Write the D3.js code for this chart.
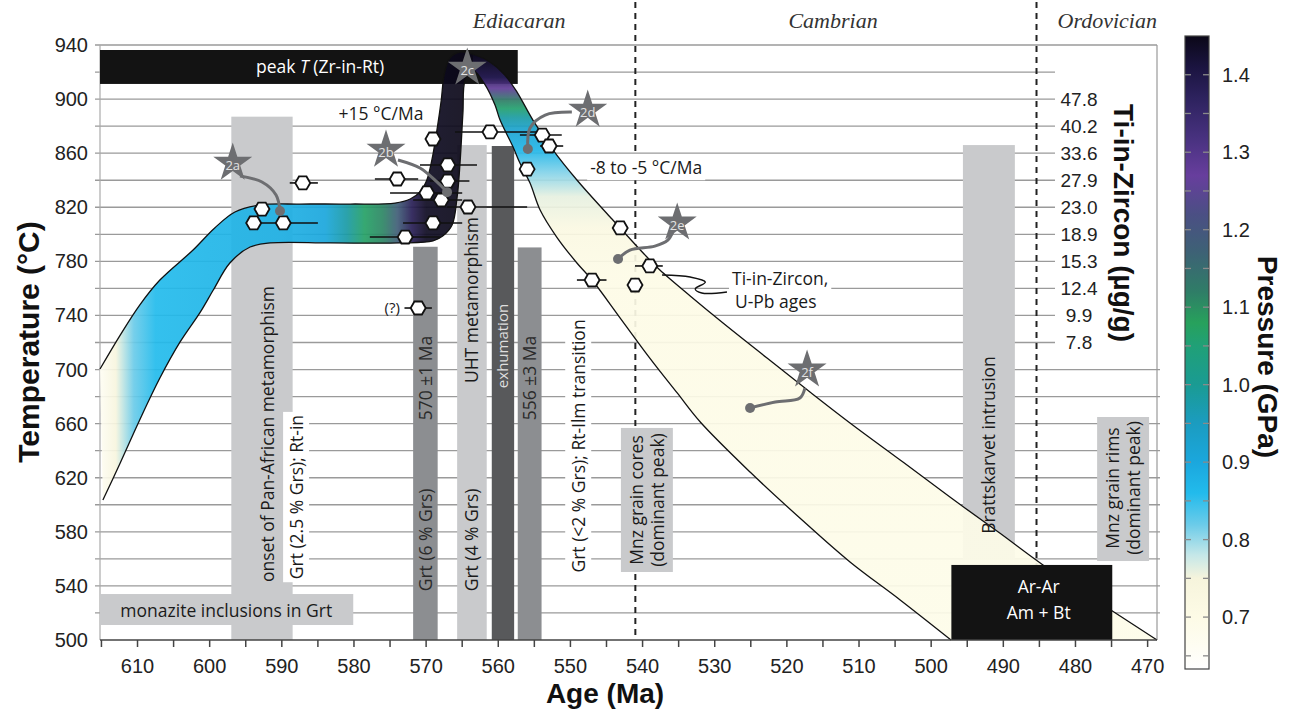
<!DOCTYPE html>
<html>
<head>
<meta charset="utf-8">
<script src="https://cdn.jsdelivr.net/npm/d3@7"></script>
<style>
body{margin:0;background:#fff}
svg text{font-family:"Open Sans",sans-serif}
</style>
</head>
<body>
<svg id="chart" width="1299" height="716"></svg>
<script>
// ---- data ----
const tempTicks = [500,540,580,620,660,700,740,780,820,860,900,940]
const tempGrid = [520,540,560,580,600,620,640,660,680,700,720,740,760,780,800,820,840,860,880,900,920]
const ageTicks = [610,600,590,580,570,560,550,540,530,520,510,500,490,480,470]
const ageMinor = [615,605,595,585,575,565,555,545,535,525,515,505,495,485,475]
const tiTemps = [900,880,860,840,820,800,780,760,740,720]
const tiLabels = ["47.8","40.2","33.6","27.9","23.0","18.9","15.3","12.4","9.9","7.8"]

const periodNames = ["Ediacaran","Cambrian","Ordovician"]
const periodLabelAge = [557.1,513.6,475.6]
const periodBounds = [541.0,485.4]

// grey age bands / boxes
const boxFrom  = [597.0,571.8,565.7,560.9,557.3,495.6,543.0,477.0,615.2]
const boxTo    = [588.5,568.4,561.6,557.8,554.0,488.4,535.8,469.8,580.1]
const boxTlow  = [500,500,500,500,500,560,550.3,558.4,511.1]
const boxThigh = [887,790.8,866,865.3,790.3,866,656.8,664.9,534]
const boxShade = ["light","mid","light","dark","mid","light","light","light","light"]

// black boxes: peak T (Zr-in-Rt), Ar-Ar
const blackFrom  = [615.2,497.2]
const blackTo    = [557.3,474.9]
const blackTlow  = [911.2,500]
const blackThigh = [936.3,555.5]

// P-T path envelope [age, T]
const pathUpper = [[615.2,700.4],[612.4,725.5],[609.7,747.7],[606.9,766.2],[602.3,788.4],[599.3,804.7],[596.5,816.5],[593.0,821.7],[587.5,822.4],[580.5,822.4],[574.3,823.1],[572.2,826.1],[570.85,831.3],[569.9,840.2],[569.2,855],[568.5,877.1],[567.9,899.3],[567.5,917.8],[566.7,930.4],[565.3,934.8],[563.2,932.6],[561.15,927.4],[559.1,917.8],[557.4,905.2],[555.2,884.5],[552.4,862.3],[549.1,840.2],[544.5,812.8],[539.4,783.2],[537.6,773.6],[533.4,754.4],[528.85,734.4],[522.75,708.5],[516.8,683.4],[511.25,660.5],[504.3,633.1],[497.4,605.7],[490.5,579.1],[484.5,555.5],[476.6,527.4],[468.7,500]]
const pathLower = [[614.8,603.5],[612.4,630.9],[609.7,662.7],[606.9,693.7],[604.1,720.4],[601.3,742.5],[599.5,758.8],[597.2,778.8],[594.4,790.6],[591.6,793.6],[583.3,793.6],[573.6,793.6],[569.05,795.1],[567.7,798.7],[566.4,806.9],[565.7,827.6],[565.3,852.7],[564.9,889.7],[564.6,914.1],[563.6,921.5],[561.8,910.4],[560.45,895.6],[559.75,884.5],[557.95,864.6],[557.0,852.7],[555.6,837.9],[554.2,818],[551.9,798],[549.1,778.8],[547.0,766.2],[543.1,738.1],[539.0,708.5],[535.2,682.7],[532.0,661.2],[525.1,624.2],[518.2,590.2],[511.25,557.7],[504.3,529.6],[497.25,500]]

// pressure along the path
const platAge = [615.2,613,610.5,607.5,600,590,584,581,578.5,576,574,572,570,563.5]
const platP   = [0.66,0.74,0.82,0.86,0.87,0.88,0.90,0.98,1.07,1.11,1.18,1.38,1.44,1.45]
const descT   = [935,916,908,899,893,886,877,862,846,828,805,770,500]
const descP   = [1.45,1.38,1.28,1.12,1.06,0.98,0.92,0.87,0.81,0.76,0.72,0.70,0.69]

// colour bar
const pressureStops  = [0.633,0.66,0.70,0.75,0.78,0.82,0.86,0.90,0.95,1.00,1.05,1.08,1.12,1.17,1.22,1.27,1.32,1.37,1.41,1.45]
const pressureColors = ["#ffffff","#fefdf3","#fdfbe6","#f6f4dc","#c5e7e8","#6acbe9","#22bbec","#1ba7dd","#1b9cc0","#1a9b93","#20a077","#27a15c","#2f7d67","#3d6275","#4b4f84","#673e9d","#47317e","#2d225e","#1b1440","#0b0818"]
const cbLabels = [0.7,0.8,0.9,1.0,1.1,1.2,1.3,1.4]

// Ti-in-zircon / U-Pb zircon points
const zirconAge    = [569.05,574.0,567.0,567.0,569.9,567.9,564.2,569.05,572.9,561.15,553.9,552.95,556.0,587.1,592.75,593.9,589.8,571.1,543.1,539.0,547.0,541.05]
const zirconT      = [870.5,840.9,851.3,839.4,830.6,825.4,820.2,808.4,798.0,875.7,873.4,865.3,848.2,838.0,818.7,808.4,808.4,745.5,804.7,776.6,766.2,762.5]
const zirconAgeMin = [null,571.1,562.95,564.0,565.0,565.0,556.0,565.0,568.1,554.6,551.2,551.0,null,585.0,null,null,585.0,569.2,null,537.2,545.0,null]
const zirconAgeMax = [null,577.1,570.85,569.5,575.0,571.8,567.1,573.2,577.8,566.0,557.0,554.2,null,588.9,null,null,594.7,573.0,null,541.05,549.1,null]

// sample stars and their links to the path
const starLabels = ["2a","2b","2c","2d","2e","2f"]
const starAge = [596.8,575.56,564.3,547.6,535.2,517.2]
const starT   = [852.7,862.3,923,891.9,808.4,699.7]
const starLinks = [
  [[590.25,817.2],[590.8,829.1],[592.75,838.7],[595.8,843.1]],
  [[567.1,831.2],[568.5,838.7],[570.85,849],[573.9,855]],
  null,
  [[555.9,863.1],[555.6,878.6],[553.5,888.2],[549.8,890.4]],
  [[543.4,781.7],[541.75,788.4],[538.3,791.3],[536.5,795.7],[535.8,801.7]],
  [[525.1,671.6],[521.6,676],[518.2,679],[517.5,686.3]]
]
const tiLeader = [[537.3,769.9],[533.4,768.4],[531.3,764.7],[532.7,759.6],[531.8,756.6],[528.3,757.3]]

// ---- drawing ----
const svg = d3.select("#chart")
const x = d3.scaleLinear().domain([615.2,468.7]).range([100,1157])
const y = d3.scaleLinear().domain([500,940]).range([640,45])
const pColor = d3.scaleLinear().domain(pressureStops).range(pressureColors).interpolate(d3.interpolateRgb)
const cbY = d3.scaleLinear().domain([0.633,1.45]).range([669,36])
const defs = svg.append("defs")
const shadeFill = {light:"#c9cacc", mid:"#8c8e91", dark:"#58595b"}

// gridlines
const grid = svg.append("g")
grid.selectAll("line.g").data(tempGrid).enter().append("line")
    .attr("x1",95).attr("x2",d=>(d>=720&&d<=920)?1055:1160)
    .attr("y1",d=>y(d)).attr("y2",d=>y(d))
    .attr("stroke","#9a9a9a").attr("stroke-width",1.3)
grid.append("line").attr("x1",95).attr("x2",x(468.7)).attr("y1",y(940)).attr("y2",y(940))
    .attr("stroke","#9a9a9a").attr("stroke-width",1.3)
grid.append("line").attr("x1",x(615.2)).attr("x2",x(615.2)).attr("y1",y(940)).attr("y2",y(500))
    .attr("stroke","#aaa").attr("stroke-width",1.2)
grid.append("line").attr("x1",x(468.7)).attr("x2",x(468.7)).attr("y1",y(940)).attr("y2",y(500))
    .attr("stroke","#999").attr("stroke-width",1.2)

// period boundaries
svg.append("g").selectAll("line").data(periodBounds).enter().append("line")
    .attr("x1",d=>x(d)).attr("x2",d=>x(d)).attr("y1",2).attr("y2",y(500))
    .attr("stroke","#222").attr("stroke-width",2).attr("stroke-dasharray","6,5")
svg.append("g").selectAll("text").data(periodNames).enter().append("text")
    .attr("x",(d,i)=>x(periodLabelAge[i])).attr("y",28)
    .attr("text-anchor","middle")
    .style("font-family","'Liberation Serif',serif").style("font-style","italic")
    .style("font-size","22px").attr("fill","#333").text(d=>d)

// grey boxes
svg.append("g").selectAll("rect").data(boxFrom).enter().append("rect")
    .attr("x",(d,i)=>x(d)).attr("width",(d,i)=>x(boxTo[i])-x(d))
    .attr("y",(d,i)=>y(boxThigh[i])).attr("height",(d,i)=>y(boxTlow[i])-y(boxThigh[i]))
    .attr("fill",(d,i)=>shadeFill[boxShade[i]])

// black boxes
function blackBox(i){
    svg.append("rect").attr("x",x(blackFrom[i])).attr("width",x(blackTo[i])-x(blackFrom[i]))
        .attr("y",y(blackThigh[i])).attr("height",y(blackTlow[i])-y(blackThigh[i]))
        .attr("fill","#131313")
}
blackBox(0)

// P-T path
const line = d3.line().x(d=>x(d[0])).y(d=>y(d[1])).curve(d3.curveCatmullRom.alpha(0.5))
const upPath = line(pathUpper)
const lowPath = line(pathLower.slice().reverse())
const bandPath = upPath + "L" + lowPath.slice(1) + "Z"
defs.append("clipPath").attr("id","bandClip").append("path").attr("d",bandPath)

const platGrad = defs.append("linearGradient").attr("id","platGrad")
    .attr("gradientUnits","userSpaceOnUse")
    .attr("x1",x(platAge[0])).attr("x2",x(platAge[platAge.length-1])).attr("y1",0).attr("y2",0)
platGrad.selectAll("stop").data(platAge).enter().append("stop")
    .attr("offset",(d,i)=>(x(d)-x(platAge[0]))/(x(platAge[platAge.length-1])-x(platAge[0])))
    .attr("stop-color",(d,i)=>pColor(platP[i]))
const descGrad = defs.append("linearGradient").attr("id","descGrad")
    .attr("gradientUnits","userSpaceOnUse")
    .attr("x1",0).attr("x2",0).attr("y1",y(descT[0])).attr("y2",y(descT[descT.length-1]))
descGrad.selectAll("stop").data(descT).enter().append("stop")
    .attr("offset",(d,i)=>(y(d)-y(descT[0]))/(y(descT[descT.length-1])-y(descT[0])))
    .attr("stop-color",(d,i)=>pColor(descP[i]))

const band = svg.append("g").attr("clip-path","url(#bandClip)").attr("opacity",0.92)
const split = x(platAge[platAge.length-1])
band.append("rect").attr("x",90).attr("width",split-90).attr("y",30).attr("height",620).attr("fill","url(#platGrad)")
band.append("rect").attr("x",split).attr("width",1170-split).attr("y",30).attr("height",620).attr("fill","url(#descGrad)")
svg.append("path").attr("d",line(pathUpper)).attr("fill","none").attr("stroke","#111").attr("stroke-width",1.3)
svg.append("path").attr("d",line(pathLower)).attr("fill","none").attr("stroke","#111").attr("stroke-width",1.3)

blackBox(1)

// axes
const yAxisG = svg.append("g")
yAxisG.selectAll("text").data(tempTicks).enter().append("text")
    .attr("x",88).attr("y",d=>y(d)).attr("dy","0.35em").attr("text-anchor","end")
    .style("font-family","'Liberation Sans',Arial,sans-serif").style("font-size","20px").attr("fill","#222")
    .text(d=>d)
const xAxisG = svg.append("g")
xAxisG.append("line").attr("x1",x(615.2)).attr("x2",x(468.7)).attr("y1",y(500)).attr("y2",y(500))
    .attr("stroke","#444").attr("stroke-width",1.5)
xAxisG.selectAll("line.t").data(ageTicks.concat(ageMinor)).enter().append("line")
    .attr("x1",d=>x(d)).attr("x2",d=>x(d)).attr("y1",y(500)).attr("y2",y(500)+7)
    .attr("stroke","#444").attr("stroke-width",1.5)
xAxisG.selectAll("text").data(ageTicks).enter().append("text")
    .attr("x",d=>x(d)).attr("y",673).attr("text-anchor","middle")
    .style("font-family","'Liberation Sans',Arial,sans-serif").style("font-size","20px").attr("fill","#222")
    .text(d=>d)

// Ti-in-zircon scale
svg.append("g").selectAll("text").data(tiLabels).enter().append("text")
    .attr("x",1079).attr("y",(d,i)=>y(tiTemps[i])).attr("dy","0.35em").attr("text-anchor","middle")
    .style("font-family","'Liberation Sans',Arial,sans-serif").style("font-size","19px").attr("fill","#222")
    .text(d=>d)

// axis titles
function boldTitle(txt, px, py, rot, size){
    svg.append("text").attr("transform",`translate(${px},${py}) rotate(${rot})`)
        .attr("text-anchor","middle").attr("dy","0.35em")
        .style("font-family","'Liberation Sans',Arial,sans-serif").style("font-weight","bold")
        .style("font-size",size+"px").attr("fill","#111").text(txt)
}
boldTitle("Temperature (°C)",28,342,-90,30)
boldTitle("Age (Ma)",605,693,0,28)
boldTitle("Ti-in-Zircon (µg/g)",1124,223,90,28)
boldTitle("Pressure (GPa)",1268,357,90,28)

// annotation labels
function label(txt, age, temp, opt){
    opt = opt || {}
    const g = svg.append("g").attr("transform",`translate(${x(age)},${y(temp)}) rotate(${opt.rot||0})`)
    const t = g.append("text").attr("text-anchor",opt.anchor||"middle").attr("dy","0.35em")
        .style("font-size",(opt.size||17.5)+"px").attr("fill",opt.fill||"#1a1a1a")
    if(opt.italicT){
        t.append("tspan").text("peak ")
        t.append("tspan").style("font-style","italic").text("T")
        t.append("tspan").text(" (Zr-in-Rt)")
    }else t.text(txt)
    if(opt.bg){
        const b = t.node().getBBox()
        g.insert("rect","text").attr("x",b.x-3).attr("y",b.y-1).attr("width",b.width+6).attr("height",b.height+2).attr("fill","#fff")
    }
    return g
}
label("onset of Pan-African metamorphism",591.9,652.3,{rot:-90})
label("Grt (2.5 % Grs); Rt-in",587.9,605.7,{rot:-90,bg:true})
label("570 ±1 Ma",570.0,693.7,{rot:-90,fill:"#2a2a2a"})
label("Grt (6 % Grs)",570.0,574,{rot:-90,fill:"#2a2a2a"})
label("UHT metamorphism",563.6,751.4,{rot:-90})
label("Grt (4 % Grs)",563.6,574,{rot:-90})
label("exhumation",559.35,717.4,{rot:-90,fill:"#dedede",size:15})
label("556 ±3 Ma",555.6,693.7,{rot:-90,fill:"#2a2a2a"})
label("Grt (<2 % Grs); Rt-Ilm transition",548.8,643.5,{rot:-90,bg:true})
label("Mnz grain cores",540.8,603.5,{rot:-90})
label("(dominant peak)",537.9,603.5,{rot:-90})
label("Brattskarvet intrusion",492.0,644.2,{rot:-90})
label("Mnz grain rims",474.8,612.4,{rot:-90})
label("(dominant peak)",471.9,612.4,{rot:-90})
label("",584.7,923.7,{italicT:true,fill:"#fff"})
label("monazite inclusions in Grt",597.7,521.4)
label("+15 °C/Ma",576.25,889)
label("-8 to -5 °C/Ma",539.5,849,{bg:true})
label("Ar-Ar",485.1,539.2,{fill:"#fff"})
label("Am + Bt",485.1,520,{fill:"#fff"})
label("(?)",574.7,745.5,{size:15})
label("Ti-in-Zircon,",527.6,767,{anchor:"start",bg:true})
label("U-Pb ages",527.2,750,{anchor:"start",bg:true})
svg.append("path").attr("d",line(tiLeader)).attr("fill","none").attr("stroke","#111").attr("stroke-width",1.4)

// zircon points with error bars
const pts = svg.append("g")
const zIdx = d3.range(zirconAge.length)
pts.selectAll("line").data(zIdx.filter(i=>zirconAgeMin[i]!==null)).enter().append("line")
    .attr("x1",i=>x(zirconAgeMax[i])).attr("x2",i=>x(zirconAgeMin[i]))
    .attr("y1",i=>y(zirconT[i])).attr("y2",i=>y(zirconT[i]))
    .attr("stroke","#111").attr("stroke-width",1.6)
const hexR = 7.5
const hex = "M" + d3.range(6).map(k=>[hexR*Math.cos(k*Math.PI/3),hexR*Math.sin(k*Math.PI/3)]).join("L") + "Z"
pts.selectAll("path").data(zIdx).enter().append("path")
    .attr("d",hex).attr("transform",i=>`translate(${x(zirconAge[i])},${y(zirconT[i])})`)
    .attr("fill","#fff").attr("stroke","#111").attr("stroke-width",1.8)

// stars and links
const linkLine = d3.line().x(d=>x(d[0])).y(d=>y(d[1])).curve(d3.curveCatmullRom.alpha(0.5))
starLinks.forEach(function(l){
    if(!l) return
    svg.append("path").attr("d",linkLine(l)).attr("fill","none").attr("stroke","#6d6e71").attr("stroke-width",3)
    svg.append("circle").attr("cx",x(l[0][0])).attr("cy",y(l[0][1])).attr("r",5).attr("fill","#6d6e71")
})
const starSym = d3.symbol().type(d3.symbolStar).size(20.5*20.5/0.8908)
const stars = svg.append("g").selectAll("g").data(starLabels).enter().append("g")
    .attr("transform",(d,i)=>`translate(${x(starAge[i])},${y(starT[i])})`)
stars.append("path").attr("d",starSym).attr("fill","#6d6e71")
stars.append("text").attr("text-anchor","middle").attr("dy","0.4em").attr("y",2)
    .style("font-size","13px").attr("fill","#e2e2e2").text(d=>d)

// colour bar
const cbGrad = defs.append("linearGradient").attr("id","cbGrad")
    .attr("gradientUnits","userSpaceOnUse").attr("x1",0).attr("x2",0)
    .attr("y1",cbY(1.45)).attr("y2",cbY(0.633))
const cbOrder = d3.range(pressureStops.length).reverse()
cbGrad.selectAll("stop").data(cbOrder).enter().append("stop")
    .attr("offset",i=>(cbY(pressureStops[i])-cbY(1.45))/(cbY(0.633)-cbY(1.45)))
    .attr("stop-color",i=>pressureColors[i])
const cb = svg.append("g")
cb.append("rect").attr("x",1185).attr("width",24).attr("y",cbY(1.45)).attr("height",cbY(0.633)-cbY(1.45))
    .attr("fill","url(#cbGrad)").attr("stroke","#444").attr("stroke-width",1.2)
const cbTicks = d3.range(13,29).map(k=>k*0.05)
cb.selectAll("line.l").data(cbTicks).enter().append("line")
    .attr("x1",1185).attr("x2",1191).attr("y1",d=>cbY(d)).attr("y2",d=>cbY(d))
    .attr("stroke","#8a8a8a").attr("stroke-width",1.3)
cb.selectAll("line.r").data(cbTicks).enter().append("line")
    .attr("x1",1203).attr("x2",1209).attr("y1",d=>cbY(d)).attr("y2",d=>cbY(d))
    .attr("stroke","#8a8a8a").attr("stroke-width",1.3)
cb.selectAll("text").data(cbLabels).enter().append("text")
    .attr("x",1222).attr("y",d=>cbY(d)).attr("dy","0.35em")
    .style("font-family","'Liberation Sans',Arial,sans-serif").style("font-size","20px").attr("fill","#222")
    .text(d=>d.toFixed(1))
</script>
</body>
</html>
